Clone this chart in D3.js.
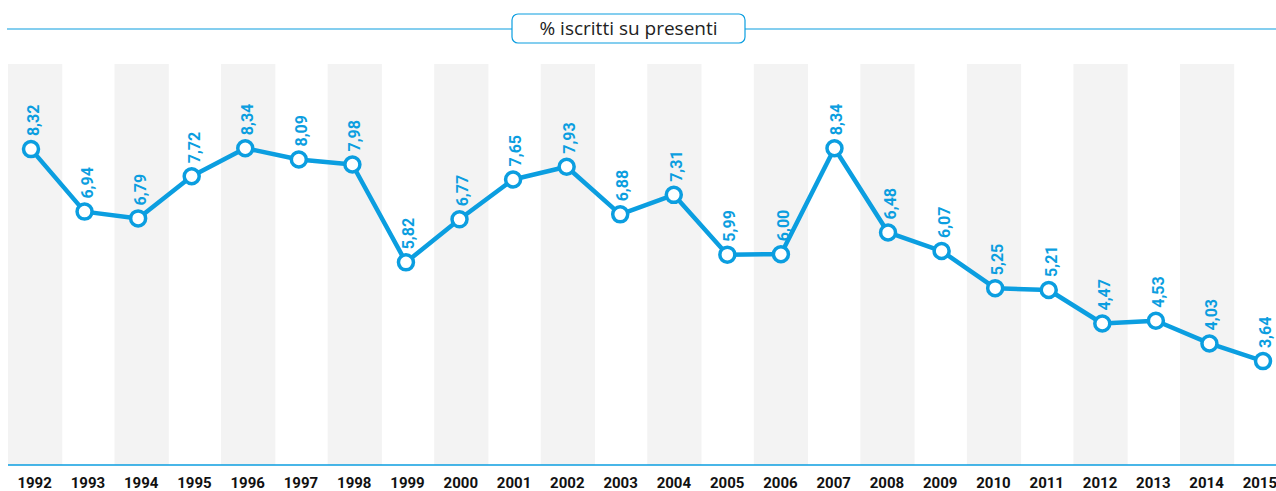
<!DOCTYPE html>
<html>
<head>
<meta charset="utf-8">
<script src="https://cdn.jsdelivr.net/npm/d3@7"></script>
<style>
  body { margin: 0; background: #fff; }
  svg { display: block; }
  .yr { font-family: Roboto, sans-serif; font-weight: 700; font-size: 15px; fill: #111; }
  .val { font-family: Roboto, sans-serif; font-weight: 700; font-size: 16px; fill: #0b9ee0; }
  .title { font-family: "Open Sans", sans-serif; font-size: 19px; fill: #222; }
</style>
</head>
<body>
<svg id="chart" width="1276" height="491"></svg>
<script>
// data
const years = [1992, 1993, 1994, 1995, 1996, 1997, 1998, 1999, 2000, 2001, 2002, 2003,
               2004, 2005, 2006, 2007, 2008, 2009, 2010, 2011, 2012, 2013, 2014, 2015];
const values = [8.32, 6.94, 6.79, 7.72, 8.34, 8.09, 7.98, 5.82, 6.77, 7.65, 7.93, 6.88,
                7.31, 5.99, 6.00, 8.34, 6.48, 6.07, 5.25, 5.21, 4.47, 4.53, 4.03, 3.64];
const titleText = "% iscritti su presenti";

const blue = "#0b9ee0";
const svg = d3.select("#chart");
const width = +svg.attr("width");

const plotTop = 64, plotBottom = 465;

// alternating background bands
const band = d3.scaleBand().domain(years).range([8, 8 + 24 * 53.27]).paddingInner(0);
const x = d3.scaleLinear().domain([1992, 2015]).range([31, 1263]);
const y = d3.scaleLinear().domain([0, 10]).range([526, 73]);

svg.selectAll(".band").data(years.filter((d, i) => i % 2 === 0))
  .enter().append("rect")
  .attr("class", "band")
  .attr("x", d => band(d))
  .attr("y", plotTop)
  .attr("width", band.bandwidth() + 1)
  .attr("height", plotBottom - plotTop)
  .style("fill", "#f3f3f3");

// bottom axis line
svg.append("line")
  .attr("x1", 8).attr("x2", width)
  .attr("y1", plotBottom).attr("y2", plotBottom)
  .style("stroke", blue).style("stroke-width", 1.5);

// year labels
svg.selectAll(".yr").data(years)
  .enter().append("text")
  .attr("class", "yr")
  .attr("x", d => band(d) + band.bandwidth() / 2)
  .attr("y", 488)
  .attr("text-anchor", "middle")
  .text(d => d);

// title line + box
svg.append("line")
  .attr("x1", 7).attr("x2", width)
  .attr("y1", 29).attr("y2", 29)
  .style("stroke", blue).style("stroke-width", 1.2);
svg.append("rect")
  .attr("x", 512).attr("y", 14)
  .attr("width", 233).attr("height", 29)
  .attr("rx", 6)
  .style("fill", "#fff").style("stroke", blue).style("stroke-width", 1.2);
svg.append("text")
  .attr("class", "title")
  .attr("x", 628.5).attr("y", 35)
  .attr("text-anchor", "middle")
  .text(titleText);

// line
const pts = years.map((yr, i) => ({ year: yr, v: values[i] }));
const line = d3.line().x(d => x(d.year)).y(d => y(d.v));
svg.append("path")
  .datum(pts)
  .attr("d", line)
  .style("fill", "none")
  .style("stroke", blue)
  .style("stroke-width", 4.5)
  .style("stroke-linejoin", "round");

svg.selectAll(".dot").data(pts)
  .enter().append("circle")
  .attr("class", "dot")
  .attr("cx", d => x(d.year))
  .attr("cy", d => y(d.v))
  .attr("r", 7.5)
  .style("fill", "#fff")
  .style("stroke", blue)
  .style("stroke-width", 3.5);

// value labels, rotated
const fmt = v => v.toFixed(2).replace(".", ",");
svg.selectAll(".val").data(pts)
  .enter().append("text")
  .attr("class", "val")
  .attr("transform", d => "translate(" + (x(d.year) + 8) + "," + (y(d.v) - 13) + ") rotate(-90)")
  .text(d => fmt(d.v));
</script>
</body>
</html>
